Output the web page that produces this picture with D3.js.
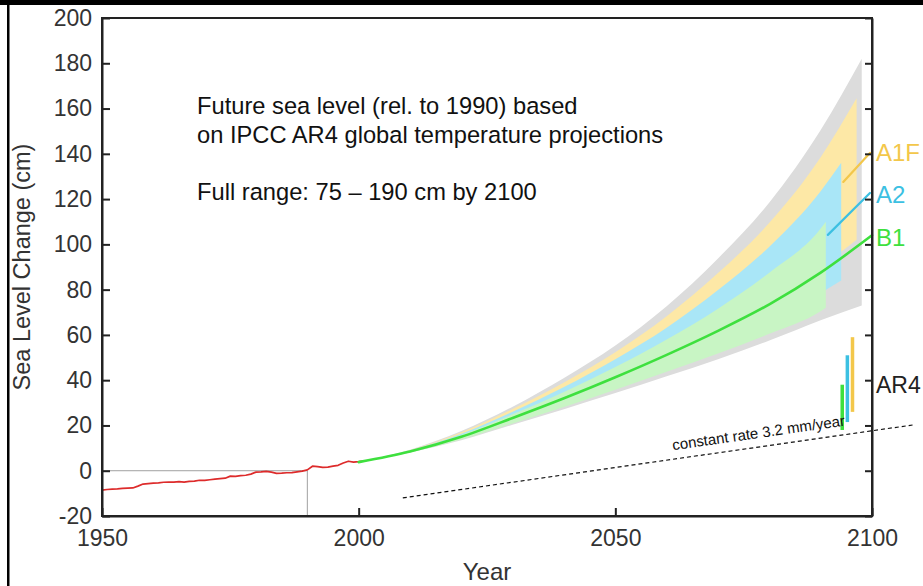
<!DOCTYPE html>
<html>
<head>
<meta charset="utf-8">
<script src="https://cdn.jsdelivr.net/npm/d3@7"></script>
<style>
  html, body { margin: 0; padding: 0; background: #fff; }
  svg { display: block; }
</style>
</head>
<body>
<script>
// ---------------- DATA ----------------
const yTicks = [-20, 0, 20, 40, 60, 80, 100, 120, 140, 160, 180, 200];
const xTicks = [1950, 2000, 2050, 2100];

// observed sea level (red)
const obsYears = [1950,1951,1952,1953,1954,1955,1956,1957,1958,1959,1960,1961,1962,1963,1964,1965,1966,1967,1968,1969,1970,1971,1972,1973,1974,1975,1976,1977,1978,1979,1980,1981,1982,1983,1984,1985,1986,1987,1988,1989,1990,1991,1992,1993,1994,1995,1996,1997,1998,1999,2000,2001];
const obsValues = [-8.6,-8.3,-8.1,-8.0,-7.8,-7.7,-7.6,-6.8,-5.9,-5.7,-5.5,-5.4,-5.1,-5.0,-5.0,-4.8,-5.0,-4.7,-4.6,-4.2,-4.3,-4.0,-3.7,-3.5,-3.3,-2.4,-2.5,-2.2,-2.0,-1.5,-0.6,-0.5,-0.3,-0.6,-1.2,-1.1,-0.9,-0.8,-0.5,-0.2,0.4,2.0,1.8,1.5,1.6,2.0,2.4,3.4,4.2,3.8,4.0,4.3];

// B1 central projection (green)
const projYears = [2000,2010,2020,2030,2040,2050,2060,2070,2080,2090,2100];
const b1Central = [3.8,8.5,15,23.3,32,41.3,51.2,61.8,73.5,87.5,104];

// ranges (bands)
const fullYears = [2000,2010,2020,2030,2040,2050,2060,2070,2080,2090,2098];
const fullHigh  = [3.8,9.3,17.5,28.3,41,55.3,72.7,93.8,118.5,150.5,182];
const fullLow   = [3.8,8,13.5,20.3,27.2,34.3,41.7,49.3,57.5,66.5,73];

const a1fYears = [2000,2010,2020,2030,2040,2050,2060,2070,2080,2090,2097];
const a1fHigh  = [3.8,9.1,17,27.3,39,52.3,68.2,87.3,109.5,138.5,164.5];
const a1fLow   = [3.8,8.5,15,23.3,32,41.6,51.7,62.8,75,90,102];

const a2Years = [2000,2010,2020,2030,2040,2050,2060,2070,2080,2090,2094];
const a2High  = [3.8,8.9,16.3,26,37,49.3,63.2,79.8,99,123.5,136];
const a2Low   = [3.8,8.3,14.4,22.1,30,38.3,47,56.3,66.3,78.5,84];

const b1Years = [2000,2010,2020,2030,2040,2050,2060,2070,2080,2090,2091];
const b1High  = [3.8,8.8,15.8,24.9,34.8,45.8,58,71.6,87.5,107,110];
const b1Low   = [3.8,8.1,13.8,20.9,28.2,35.8,43.7,51.8,60.5,70.5,72];

// short end segments of A1FI and A2 central lines
const a1fSegYears = [2094.4, 2099.6];
const a1fSegValues = [127.6, 140.4];
const a2SegYears = [2091.4, 2099.6];
const a2SegValues = [104.2, 122.7];

// AR4 ranges for 2100
const ar4Names = ["B1", "A2", "A1FI"];
const ar4Years = [2094.2, 2095.2, 2096.2];
const ar4Low  = [18, 21.5, 26];
const ar4High = [38, 51, 59];

// constant rate line
const rateYears = [2008.6, 2107.9];
const rateValues = [-12, 20.2];

const scenarioLabels = ["A1F", "A2", "B1", "AR4"];
const scenarioLabelValues = [140.5, 122, 103, 38];

// ---------------- STYLE ----------------
const W = 923, H = 586;
const FONT = "'Liberation Sans', Arial, Helvetica, sans-serif";
const colGray = "#dcdcdc", colYellow = "#fde8a6", colCyan = "#a9e6f7", colGreenBand = "#c8f5c4";
const colGreen = "#3ee03e", colRed = "#dd2b2b", colOrange = "#f3c74a", colCyanLine = "#3cc0e2";
const labelColors = [colOrange, colCyanLine, colGreen, "#222"];
const labelSizes = [24, 24, 24, 23];
const ar4Colors = [colGreen, colCyanLine, colOrange];

const svg = d3.select("body").append("svg").attr("width", W).attr("height", H);
svg.append("rect").attr("width", W).attr("height", H).attr("fill", "#fff");

const x = d3.scaleLinear().domain([1950, 2100]).range([102, 872]);
const y = d3.scaleLinear().domain([-20, 200]).range([516, 18]);

function band(years, low, high, color) {
  const pts = years.map((yr, i) => ({yr, lo: low[i], hi: high[i]}));
  const area = d3.area().x(d => x(d.yr)).y0(d => y(d.lo)).y1(d => y(d.hi)).curve(d3.curveMonotoneX);
  svg.append("path").datum(pts).attr("d", area).attr("fill", color).attr("stroke", "none");
}
band(fullYears, fullLow, fullHigh, colGray);
band(a1fYears, a1fLow, a1fHigh, colYellow);
band(a2Years, a2Low, a2High, colCyan);
band(b1Years, b1Low, b1High, colGreenBand);

function line(years, vals, color, width, curve) {
  const pts = years.map((yr, i) => [yr, vals[i]]);
  const gen = d3.line().x(d => x(d[0])).y(d => y(d[1])).curve(curve || d3.curveLinear);
  return svg.append("path").datum(pts).attr("d", gen).attr("fill", "none")
    .attr("stroke", color).attr("stroke-width", width).attr("stroke-linejoin", "round").attr("stroke-linecap", "round");
}

// zero reference lines
svg.append("line").attr("x1", x(1950)).attr("x2", x(1990)).attr("y1", y(0)).attr("y2", y(0))
  .attr("stroke", "#a0a0a0").attr("stroke-width", 1);
svg.append("line").attr("x1", x(1990)).attr("x2", x(1990)).attr("y1", y(0)).attr("y2", y(-20))
  .attr("stroke", "#a0a0a0").attr("stroke-width", 1);

line(obsYears, obsValues, colRed, 1.7);
line(projYears, b1Central, colGreen, 2.6, d3.curveMonotoneX);
line(a1fSegYears, a1fSegValues, colOrange, 2.2);
line(a2SegYears, a2SegValues, colCyanLine, 2.2);

// AR4 bars
ar4Years.forEach((yr, i) => {
  svg.append("line").attr("x1", x(yr)).attr("x2", x(yr)).attr("y1", y(ar4Low[i])).attr("y2", y(ar4High[i]))
    .attr("stroke", ar4Colors[i]).attr("stroke-width", 3.5);
});

// constant rate dashed line
const p0 = [x(rateYears[0]), y(rateValues[0])], p1 = [x(rateYears[1]), y(rateValues[1])];
svg.append("line").attr("x1", p0[0]).attr("y1", p0[1]).attr("x2", p1[0]).attr("y2", p1[1])
  .attr("stroke", "#111").attr("stroke-width", 1.2).attr("stroke-dasharray", "4,3");
const ang = Math.atan2(p1[1] - p0[1], p1[0] - p0[0]) * 180 / Math.PI;
const tx = 673, ty = p0[1] + (p1[1] - p0[1]) * (tx - p0[0]) / (p1[0] - p0[0]) - 9;
svg.append("text").attr("transform", `translate(${tx},${ty}) rotate(${ang})`)
  .attr("font-family", FONT).attr("font-size", 15).attr("fill", "#111").text("constant rate 3.2 mm/year");

// frame
svg.append("rect").attr("x", x(1950)).attr("y", y(200)).attr("width", x(2100) - x(1950)).attr("height", y(-20) - y(200))
  .attr("fill", "none").attr("stroke", "#222").attr("stroke-width", 2);

// axes
const gL = svg.append("g").attr("transform", `translate(${x(1950)},0)`)
  .call(d3.axisLeft(y).tickValues(yTicks).tickSize(-8).tickSizeOuter(0).tickPadding(10).tickFormat(d => String(d)));
const gR = svg.append("g").attr("transform", `translate(${x(2100)},0)`)
  .call(d3.axisRight(y).tickValues(yTicks).tickSize(-7).tickSizeOuter(0).tickFormat(""));
const gB = svg.append("g").attr("transform", `translate(0,${y(-20)})`)
  .call(d3.axisBottom(x).tickValues(xTicks).tickSize(-8).tickSizeOuter(0).tickPadding(14).tickFormat(d => String(d)));
[gL, gR, gB].forEach(g => {
  g.attr("font-family", FONT).attr("font-size", 23).attr("color", "#222");
  g.selectAll(".domain").attr("stroke-width", 2);
  g.selectAll(".tick line").attr("stroke-width", 2);
});
gL.selectAll("text").attr("fill", "#333");
gB.selectAll("text").attr("fill", "#333");

// axis titles
svg.append("text").attr("transform", `translate(30,${(y(200) + y(-20)) / 2}) rotate(-90)`)
  .attr("text-anchor", "middle").attr("font-family", FONT).attr("font-size", 23.5).attr("fill", "#333")
  .text("Sea Level Change (cm)");
svg.append("text").attr("x", (x(1950) + x(2100)) / 2).attr("y", 580)
  .attr("text-anchor", "middle").attr("font-family", FONT).attr("font-size", 24).attr("fill", "#333").text("Year");

// scenario labels at right
scenarioLabels.forEach((t, i) => {
  svg.append("text").attr("x", 876).attr("y", y(scenarioLabelValues[i])).attr("dy", "0.36em")
    .attr("font-family", FONT).attr("font-size", labelSizes[i]).attr("fill", labelColors[i]).text(t);
});

// annotation
const notes = ["Future sea level (rel. to 1990) based", "on IPCC AR4 global temperature projections", "", "Full range: 75 \u2013 190 cm by 2100"];
const noteBase = [114, 143, 0, 200];
notes.forEach((t, i) => {
  if (!t) return;
  svg.append("text").attr("x", 197).attr("y", noteBase[i]).attr("font-family", FONT)
    .attr("font-size", 23.7).attr("fill", "#111").text(t);
});

// slide border
svg.append("rect").attr("x", 0).attr("y", 0).attr("width", W).attr("height", 5).attr("fill", "#000");
svg.append("rect").attr("x", 7).attr("y", 0).attr("width", 2.5).attr("height", H).attr("fill", "#000");
</script>
</body>
</html>
